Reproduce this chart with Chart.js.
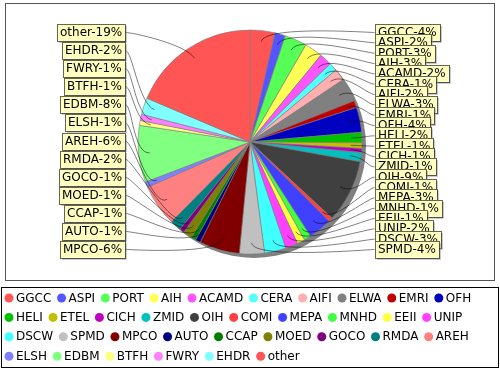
<!DOCTYPE html>
<html>
<head>
<meta charset="utf-8">
<script src="https://cdn.jsdelivr.net/npm/chart.js@4.4.1/dist/chart.umd.min.js"></script>
<style>
  body { margin: 0; background: #fff; }
  #wrap { width: 500px; height: 370px; }
</style>
</head>
<body>
<div id="wrap"><canvas id="pie" width="500" height="370"></canvas></div>
<script>
// slices, clockwise from 12 o'clock
const categories = ['GGCC', 'ASPI', 'PORT', 'AIH', 'ACAMD', 'CERA', 'AIFI', 'ELWA', 'EMRI', 'OFH',
  'HELI', 'ETEL', 'CICH', 'ZMID', 'OIH', 'COMI', 'MEPA', 'MNHD', 'EEII', 'UNIP',
  'DSCW', 'SPMD', 'MPCO', 'AUTO', 'CCAP', 'MOED', 'GOCO', 'RMDA', 'AREH',
  'ELSH', 'EDBM', 'BTFH', 'FWRY', 'EHDR', 'other']
const shares = [3.6, 1.5, 3.2, 2.6, 1.8, 1.2, 1.7, 3.4, 1.0, 3.6,
  1.5, 0.8, 0.6, 1.3, 9.1, 0.6, 3.4, 1.0, 1.1, 1.8,
  3.1, 3.6, 5.8, 0.75, 0.7, 1.3, 0.7, 1.6, 6.0,
  0.8, 8.2, 0.7, 0.9, 2.4, 18.6]

// jfreechart default series paints
const palette = ['#FF5555', '#5555FF', '#55FF55', '#FFFF55', '#FF55FF', '#55FFFF', '#FFAFAF', '#808080',
  '#C00000', '#0000C0', '#00C000', '#C0C000', '#C000C0', '#00C0C0', '#404040', '#FF4040',
  '#4040FF', '#40FF40', '#FFFF40', '#FF40FF', '#40FFFF', '#C0C0C0', '#800000', '#000080',
  '#008000', '#808000', '#800080', '#008080', '#FF8080', '#8080FF', '#80FF80', '#FFFF80',
  '#FF80FF', '#80FFFF']
const sliceColors = categories.map((c, i) => palette[i % palette.length])

const FONT = '12px "DejaVu Sans", sans-serif'

const frame = {
  id: 'frame',
  beforeDraw(chart) {
    const ctx = chart.ctx
    ctx.save()
    ctx.strokeStyle = '#555'
    ctx.lineWidth = 1
    ctx.strokeRect(5.5, 3.5, 489, 277)
    ctx.restore()
  }
}

const pieShadow = {
  id: 'pieShadow',
  beforeDatasetsDraw(chart) {
    const arc = chart.getDatasetMeta(0).data[0]
    const { x, y, outerRadius } = arc.getProps(['x', 'y', 'outerRadius'], true)
    const ctx = chart.ctx
    ctx.save()
    ctx.fillStyle = '#808080'
    ctx.beginPath()
    ctx.arc(x + 4, y + 4, outerRadius, 0, Math.PI * 2)
    ctx.fill()
    ctx.restore()
  }
}

const pieLabels = {
  id: 'pieLabels',
  afterDatasetsDraw(chart) {
    const ctx = chart.ctx
    const meta = chart.getDatasetMeta(0)
    const values = chart.data.datasets[0].data
    const total = values.reduce((a, b) => a + b, 0)
    const left = [], right = []
    let cx = 0, cy = 0, r = 0
    meta.data.forEach((arc, i) => {
      const p = arc.getProps(['x', 'y', 'startAngle', 'endAngle', 'outerRadius'], true)
      cx = p.x; cy = p.y; r = p.outerRadius
      const mid = (p.startAngle + p.endAngle) / 2
      const rec = {
        text: chart.data.labels[i] + '-' + Math.round(values[i] / total * 100) + '%',
        cos: Math.cos(mid),
        sin: Math.sin(mid)
      }
      if (rec.cos >= 0) right.push(rec)
      else left.push(rec)
    })

    ctx.save()
    ctx.font = FONT
    ctx.textBaseline = 'middle'
    const h = 17
    const top = cy - r + 2.5
    const bottom = cy + r - 4.5

    const drawSide = (list, side) => {
      list.sort((a, b) => a.sin - b.sin)
      const step = list.length > 1 ? (bottom - top) / (list.length - 1) : 0
      const anchorX = cx + side * r * 1.05
      const targetX = cx + side * r * 1.112
      list.forEach((rec, k) => {
        const ty = list.length > 1 ? top + k * step : cy + rec.sin * r
        // link
        ctx.strokeStyle = '#000'
        ctx.lineWidth = 0.5
        ctx.beginPath()
        ctx.moveTo(targetX, ty)
        ctx.bezierCurveTo(anchorX, ty,
          cx + rec.cos * r * 1.05, cy + rec.sin * r * 1.05,
          cx + rec.cos * r * 0.9, cy + rec.sin * r * 0.9)
        ctx.stroke()
        // box
        const w = Math.round(ctx.measureText(rec.text).width + 6)
        const bx = Math.round(side > 0 ? targetX : targetX - w)
        const by = Math.round(ty - h / 2)
        ctx.fillStyle = 'rgba(151,151,151,0.5)'
        ctx.fillRect(bx + 2, by + 2, w, h)
        ctx.fillStyle = '#FFFFC0'
        ctx.fillRect(bx, by, w, h)
        ctx.strokeStyle = 'rgba(0,0,0,0.6)'
        ctx.lineWidth = 1
        ctx.strokeRect(bx + 0.5, by + 0.5, w, h)
        ctx.fillStyle = '#000'
        ctx.fillText(rec.text, bx + 3, by + h / 2 + 0.5)
      })
    }
    drawSide(left, -1)
    drawSide(right, 1)
    ctx.restore()
  }
}

const legendBox = {
  id: 'legendBox',
  afterDraw(chart) {
    const ctx = chart.ctx
    const colors = chart.data.datasets[0].backgroundColor
    ctx.save()
    ctx.strokeStyle = '#000'
    ctx.lineWidth = 1
    ctx.strokeRect(1.5, 287.5, 497, 80)
    ctx.font = FONT
    ctx.textBaseline = 'middle'
    let x = 9, y = 298
    chart.data.labels.forEach((name, i) => {
      const w = ctx.measureText(name).width
      if (x + 7 + w > 494) { x = 9; y += 19.4 }
      ctx.fillStyle = colors[i]
      ctx.beginPath()
      ctx.arc(x, y, 4.5, 0, Math.PI * 2)
      ctx.fill()
      ctx.fillStyle = '#000'
      ctx.fillText(name, x + 7, y + 0.5)
      x += 7 + w + 10.2
    })
    ctx.restore()
  }
}

new Chart(document.getElementById('pie'), {
  type: 'pie',
  data: {
    labels: categories,
    datasets: [{
      data: shares,
      backgroundColor: sliceColors,
      borderColor: '#808080',
      borderWidth: 0.6,
      radius: 112
    }]
  },
  options: {
    responsive: false,
    animation: false,
    devicePixelRatio: 1,
    layout: { padding: { top: 0, bottom: 86, left: 0, right: 0 } },
    plugins: {
      legend: { display: false },
      tooltip: { enabled: false }
    }
  },
  plugins: [frame, pieShadow, pieLabels, legendBox]
})
</script>
</body>
</html>
